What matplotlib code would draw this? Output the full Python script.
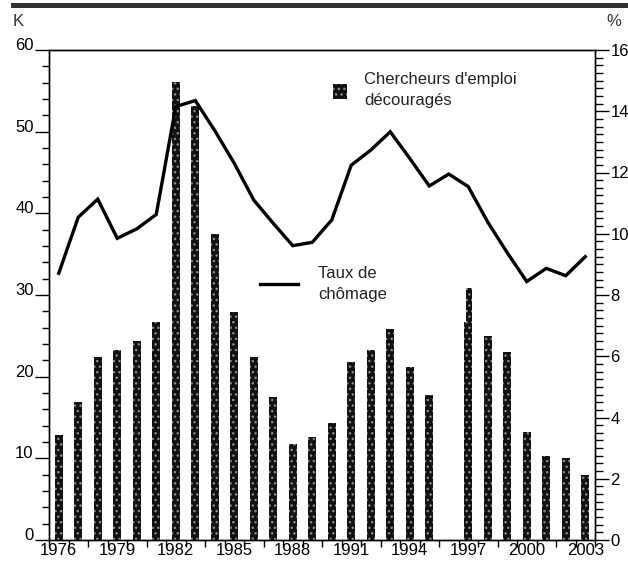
import matplotlib
matplotlib.use("Agg")
import matplotlib.pyplot as plt
import numpy as np
from matplotlib.ticker import MultipleLocator, FixedLocator
from matplotlib.patches import Rectangle
from matplotlib.lines import Line2D

plt.rcParams['font.family'] = ['Liberation Sans', 'DejaVu Sans']
plt.rcParams['hatch.linewidth'] = 1.0

years = list(range(1976, 2004))
discouraged = [12.9, 16.9, 22.4, 23.3, 24.4, 26.7, 56.1, 53.1, 37.5, 27.9,
               22.4, 17.5, 11.8, 12.6, 14.3, 21.8, 23.3, 25.8, 21.2, 17.8,
               np.nan, 26.7, 25.0, 23.0, 13.2, 10.3, 10.0, 8.0]
discouraged_alt_years = [1997]
discouraged_alt = [30.8]
unemployment = [8.71, 10.54, 11.13, 9.85, 10.16, 10.63, 14.15, 14.35, 13.37, 12.3,
                11.1, 10.34, 9.61, 9.72, 10.45, 12.24, 12.73, 13.33, 12.46, 11.56,
                11.95, 11.54, 10.38, 9.38, 8.44, 8.87, 8.63, 9.25]
year_labels = [1976, 1979, 1982, 1985, 1988, 1991, 1994, 1997, 2000, 2003]
left_ticks = [0, 10, 20, 30, 40, 50, 60]
right_ticks = [0, 2, 4, 6, 8, 10, 12, 14, 16]

fig = plt.figure(figsize=(6.28, 5.65), dpi=100)
W, H = 628, 565
ax = fig.add_axes([49/W, 1-540/H, (595-49)/W, (540-50)/H])
ax2 = ax.twinx()

bar_kw = dict(color='#111111', edgecolor='#8a8a8a', hatch='...', linewidth=0)
disc = np.array(discouraged, dtype=float)
widths = [0.43 if y in discouraged_alt_years else 0.39 for y in years]
ax.bar(years, disc, width=widths, **bar_kw)
ax.bar(np.array(discouraged_alt_years) + 0.03, discouraged_alt, width=0.34, **bar_kw)

ax2.plot(years, unemployment, color='black', lw=2.4, solid_joinstyle='miter')
ax2.set_zorder(ax.get_zorder() + 1)
ax2.patch.set_visible(False)

ax.set_xlim(1975.5, 2003.5)
ax.set_ylim(0, 60)
ax2.set_ylim(0, 16)

# x axis
ax.xaxis.set_major_locator(FixedLocator(year_labels))
ax.set_xticklabels([str(y) for y in year_labels])
ax.xaxis.set_minor_locator(FixedLocator(np.arange(1975.5, 2004, 1.0)))
ax.tick_params(axis='x', which='major', length=0, pad=2, labelsize=12)
ax.tick_params(axis='x', which='minor', length=5, width=1, direction='out')

# left y
ax.yaxis.set_major_locator(FixedLocator(left_ticks))
ax.yaxis.set_minor_locator(MultipleLocator(2))
ax.tick_params(axis='y', which='major', length=10, width=1, pad=1, labelsize=12)
ax.tick_params(axis='y', which='minor', length=5, width=1)
for lab in ax.get_yticklabels():
    lab.set_verticalalignment('baseline')

# right y
ax2.yaxis.set_major_locator(FixedLocator(right_ticks))
ax2.yaxis.set_minor_locator(MultipleLocator(0.25))
ax2.tick_params(axis='y', which='major', length=10, width=1, pad=1, labelsize=12)
ax2.tick_params(axis='y', which='minor', length=6, width=1)

for a in (ax, ax2):
    for s in a.spines.values():
        s.set_linewidth(1.0)
        s.set_color('black')

# unit labels
fig.text(13/W, 1-22/H, 'K', fontsize=12, color='#333333', va='center', ha='left')
fig.text(606/W, 1-22/H, '%', fontsize=12, color='#333333', va='center', ha='left')

# top rule
fig.add_artist(Rectangle((11/W, 1-8/H), (W-11)/W, 5/H, transform=fig.transFigure,
                         facecolor='#333333', edgecolor='none'))

# legend entries (manual)
fig.add_artist(Rectangle((333/W, 1-99/H), 14/W, 15/H, transform=fig.transFigure,
                         facecolor='#111111', edgecolor='#8a8a8a', hatch='...', linewidth=0))
fig.text(364/W, 1-90/H, "Chercheurs d'emploi\ndécouragés", fontsize=12,
         va='center', ha='left', linespacing=1.45, color='#222222')
fig.add_artist(Line2D([260/W, 298/W], [1-284/H, 1-284/H], transform=fig.transFigure,
                      color='black', lw=2.4))
fig.text(318/W, 1-284/H, "Taux de\nchômage", fontsize=12,
         va='center', ha='left', linespacing=1.45, color='#222222')

fig.savefig('out.png', dpi=100)
